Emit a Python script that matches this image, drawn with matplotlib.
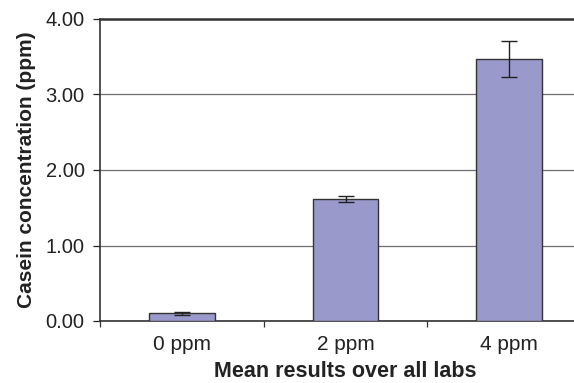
import numpy as np
import matplotlib; matplotlib.use("Agg"); import matplotlib.pyplot as plt

plt.rcParams["font.family"] = ["Liberation Sans", "DejaVu Sans"]

categories = ["0 ppm", "2 ppm", "4 ppm"]
means = [0.10, 1.62, 3.47]
errors = [0.02, 0.04, 0.235]
yticks = [0.0, 1.0, 2.0, 3.0, 4.0]

fig = plt.figure(figsize=(5.74, 3.83), dpi=100)
# plot area runs slightly past the right edge of the image, as in the reference
ax = fig.add_axes([100 / 574, 62 / 383, 491 / 574, 302 / 383])

x = np.arange(len(categories))
ax.bar(x, means, width=0.40, color="#9999cc", edgecolor="#333333", linewidth=1.0, zorder=3)
ax.errorbar(x, means, yerr=errors, fmt="none", ecolor="#222222", elinewidth=1.0,
            capsize=6, capthick=1.0, zorder=4)

ax.set_xlim(-0.5, len(categories) - 0.5)
ax.set_ylim(0, 4)
ax.set_yticks(yticks)
ax.set_yticklabels([f"{v:.2f}" for v in yticks])
ax.yaxis.grid(True, color="#6e6e6e", lw=0.9, zorder=0)
ax.set_axisbelow(True)

ax.set_xticks(x)
ax.set_xticklabels(categories)
ax.set_xticks(np.arange(-0.5, len(categories)), minor=True)
ax.tick_params(axis="x", which="major", length=0, pad=10, labelsize=15, colors="#222222")
ax.tick_params(axis="x", which="minor", length=4, width=0.9, direction="out", color="#333333")
ax.tick_params(axis="y", length=5, width=0.9, direction="out", pad=6, labelsize=14.5,
               colors="#222222")

for side in ("left", "bottom", "top"):
    ax.spines[side].set_color("#333333")
ax.spines["left"].set_linewidth(1.2)
ax.spines["bottom"].set_linewidth(1.2)
ax.spines["top"].set_linewidth(1.8)
ax.spines["right"].set_visible(False)

ax.set_ylabel("Casein concentration (ppm)", fontsize=15, fontweight="bold", labelpad=7, color="#222222")
ax.set_xlabel("Mean results over all labs", fontsize=15.5, fontweight="bold", labelpad=5, color="#222222")

fig.savefig("out.png", dpi=100)
